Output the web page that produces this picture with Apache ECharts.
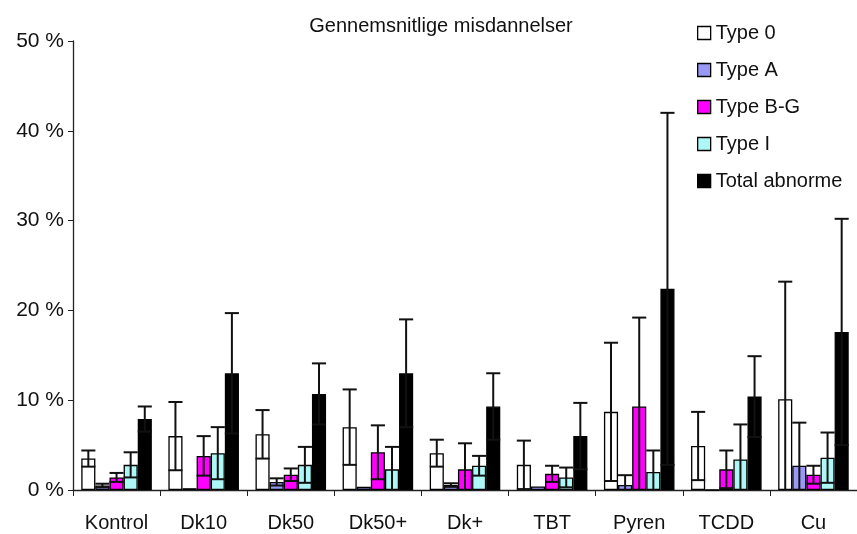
<!DOCTYPE html>
<html><head><meta charset="utf-8">
<script src="https://cdn.jsdelivr.net/npm/echarts@6/dist/echarts.min.js"></script>
<style>html,body{margin:0;padding:0;background:#fff}#c{width:857px;height:534px}</style>
</head><body><div id="c"></div>
<script>
const categories = ['Kontrol','Dk10','Dk50','Dk50+','Dk+','TBT','Pyren','TCDD','Cu'];
const seriesNames = ['Type 0','Type A','Type B-G','Type I','Total abnorme'];
const type0 = [3.5, 6.0, 6.2, 7.0, 4.1, 2.8, 8.7, 4.9, 10.1];
const err0  = [0.9, 3.8, 2.7, 4.2, 1.5, 2.7, 7.7, 3.8, 13.1];
const typeA = [0.5, 0.2, 0.9, 0.35, 0.55, 0.4, 0.55, 0, 2.7];
const errA  = [0.2, 0, 0.4, 0, 0.2, 0, 1.1, 0, 4.8];
const typeBG = [1.4, 3.8, 1.7, 4.2, 2.3, 1.8, 9.3, 2.3, 1.7];
const errBG  = [0.5, 2.2, 0.7, 3.0, 2.9, 0.9, 9.9, 2.1, 1.0];
const typeI = [2.8, 4.1, 2.8, 2.3, 2.7, 1.4, 2.0, 3.4, 3.6];
const errI  = [1.4, 2.9, 2.0, 2.5, 1.1, 1.1, 2.4, 3.9, 2.8];
const total = [7.9, 13.0, 10.7, 13.0, 9.3, 6.0, 22.4, 10.4, 17.6];
const errT  = [1.4, 6.7, 3.4, 6.0, 3.7, 3.7, 19.6, 4.5, 12.6];
const yTicks = [0, 10, 20, 30, 40, 50];

const values = [type0, typeA, typeBG, typeI, total];
const errors = [err0, errA, errBG, errI, errT];
const colors = ['#ffffff', '#9999f5', '#ff00ff', '#aef7f7', '#000000'];
const catGap = 0.19;
const FONT = 'Liberation Sans, Arial, Helvetica, sans-serif';

const series = [];
values.forEach((vals, s) => {
  series.push({
    name: seriesNames[s], type: 'bar', data: vals,
    barGap: '0%', barCategoryGap: (catGap*100)+'%',
    itemStyle: { color: colors[s], borderColor: '#000', borderWidth: 1.3 },
    z: 2
  });
});
values.forEach((vals, s) => {
  series.push({
    type: 'custom', z: 5, silent: true,
    data: vals.map((v, i) => [i, v - errors[s][i], v + errors[s][i], errors[s][i]]),
    encode: { x: 0, y: [1, 2] },
    renderItem: function (params, api) {
      const ci = api.value(0), lo = api.value(1), hi = api.value(2), e = api.value(3);
      if (!e) return null;
      const cat = api.size([1, 0])[0];
      const bw = cat * (1 - catGap) / 5;
      const cx = api.coord([ci, 0])[0] + (s - 2) * bw;
      const y0 = api.coord([ci, 0])[1];
      const yl = lo > 0 ? api.coord([ci, lo])[1] : y0;
      const yh = api.coord([ci, hi])[1];
      const hw = bw / 2;
      const st = { stroke: '#111', lineWidth: 2 };
      const ch = [
        { type: 'line', shape: { x1: cx, y1: yl, x2: cx, y2: yh }, style: st },
        { type: 'line', shape: { x1: cx - hw, y1: yh, x2: cx + hw, y2: yh }, style: st }
      ];
      if (lo > 0) ch.push({ type: 'line', shape: { x1: cx - hw, y1: yl, x2: cx + hw, y2: yl }, style: st });
      return { type: 'group', children: ch };
    }
  });
});

const chart = echarts.init(document.getElementById('c'));
chart.setOption({
  animation: false,
  backgroundColor: '#fff',
  title: { text: 'Gennemsnitlige misdannelser', left: 436, top: 11, textAlign: 'center',
    textStyle: { fontFamily: FONT, fontSize: 20, fontWeight: 'normal', color: '#111' } },
  legend: {
    data: seriesNames, orient: 'vertical', left: 692, top: 18,
    itemWidth: 13, itemHeight: 13, itemGap: 17,
    icon: 'rect',
    itemStyle: { borderColor: '#000', borderWidth: 1.3 },
    textStyle: { fontFamily: FONT, fontSize: 20, color: '#111' }
  },
  grid: { left: 73, right: -1, top: 41, bottom: 44, containLabel: false },
  xAxis: {
    type: 'category', data: categories,
    axisLine: { lineStyle: { color: '#222', width: 1.3 } },
    axisTick: { show: true, length: 6, lineStyle: { color: '#222' } },
    axisLabel: { fontFamily: FONT, fontSize: 20, color: '#111', margin: 23 }
  },
  yAxis: {
    type: 'value', min: yTicks[0], max: yTicks[yTicks.length-1], interval: 10,
    axisLine: { show: true, lineStyle: { color: '#222', width: 1.3 } },
    axisTick: { show: true, length: 5, lineStyle: { color: '#222' } },
    splitLine: { show: false },
    axisLabel: { formatter: '{value} %', fontFamily: FONT, fontSize: 21, color: '#111', margin: 9 }
  },
  series: series
});
</script></body></html>
